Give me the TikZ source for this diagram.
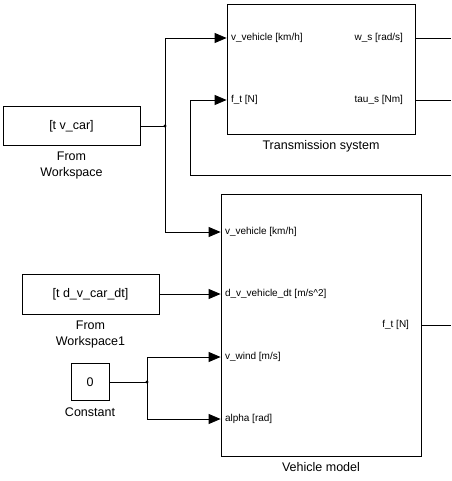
\documentclass[tikz,border=0pt]{standalone}
\usepackage{fontspec}
\setmainfont{Liberation Sans}
\usetikzlibrary{arrows.meta,positioning}

\begin{document}
\begin{tikzpicture}[x=1pt,y=-1pt,>={Triangle[length=12pt,width=10pt]},line width=0.8pt,
                    block/.style={draw,inner sep=0pt,font=\fontsize{12.5}{15}\selectfont},
                    caption/.style={align=center,inner sep=1pt,font=\fontsize{12.5}{16}\selectfont},
                    port/.style={inner sep=0pt,font=\fontsize{10}{12}\selectfont}]
  \useasboundingbox (0,0) rectangle (451,481);

  \node[block,minimum width=188pt,minimum height=130pt] (TS)  at (321,69)   {};
  \node[caption] (TSlbl) [below=5pt of TS]  {Transmission system};
  \node[block,minimum width=200pt,minimum height=262pt] (VM)  at (321,325)  {};
  \node[caption] (VMlbl) [below=5pt of VM]  {Vehicle model};
  \node[block,minimum width=137pt,minimum height=39pt]  (FW)  at (71.5,126) {[t v\_car]};
  \node[caption] (FWlbl) [below=5pt of FW]  {From\\Workspace};
  \node[block,minimum width=137pt,minimum height=40pt]  (FW1) at (90.5,294) {[t d\_v\_car\_dt]};
  \node[caption] (FW1lbl) [below=5pt of FW1] {From\\Workspace1};
  \node[block,minimum width=38pt,minimum height=37pt]   (C)   at (90,382)   {0};
  \node[caption] (Clbl) [below=5pt of C]    {Constant};

  % ports
  \coordinate (TSin1)  at (TS.west |- 0,38);
  \coordinate (TSin2)  at (TS.west |- 0,100);
  \coordinate (TSout1) at (TS.east |- 0,38);
  \coordinate (TSout2) at (TS.east |- 0,100);
  \coordinate (VMin1)  at (VM.west |- 0,232);
  \coordinate (VMin2)  at (VM.west |- 0,294);
  \coordinate (VMin3)  at (VM.west |- 0,357);
  \coordinate (VMin4)  at (VM.west |- 0,419);
  \coordinate (VMout)  at (VM.east |- 0,325);

  \node[port,anchor=west] (TSin1lbl)  at ([xshift=4pt]TSin1)   {v\_vehicle [km/h]};
  \node[port,anchor=west] (TSin2lbl)  at ([xshift=4pt]TSin2)   {f\_t [N]};
  \node[port,anchor=east] (TSout1lbl) at ([xshift=-12pt]TSout1) {w\_s [rad/s]};
  \node[port,anchor=east] (TSout2lbl) at ([xshift=-12pt]TSout2) {tau\_s [Nm]};
  \node[port,anchor=west] (VMin1lbl)  at ([xshift=4pt]VMin1)   {v\_vehicle [km/h]};
  \node[port,anchor=west] (VMin2lbl)  at ([xshift=4pt]VMin2)   {d\_v\_vehicle\_dt [m/s\textasciicircum2]};
  \node[port,anchor=west] (VMin3lbl)  at ([xshift=4pt]VMin3)   {v\_wind [m/s]};
  \node[port,anchor=west] (VMin4lbl)  at ([xshift=4pt]VMin4)   {alpha [rad]};
  \node[port,anchor=east] (VMoutlbl)  at ([xshift=-12pt]VMout) {f\_t [N]};

  \coordinate (J1) at (165,126);
  \coordinate (J2) at (147,382);
  \coordinate (FB) at (190,175);
  \coordinate (E1) at (451,38);
  \coordinate (E2) at (451,100);
  \coordinate (E3) at (451,325);
  \coordinate (E4) at (451,175);

  \draw (FW.east) -- (J1);
  \draw[->] (J1) |- (TSin1);
  \draw[->] (J1) |- (VMin1);
  \draw[->] (FW1.east) -- (VMin2);
  \draw (C.east) -- (J2);
  \draw[->] (J2) |- (VMin3);
  \draw[->] (J2) |- (VMin4);
  \draw (TSout1) -- (E1);
  \draw (TSout2) -- (E2);
  \draw (VMout) -- (E3);
  \draw[->] (E4) -- (FB) |- (TSin2);
  \fill (J1) circle (1.6pt);
  \fill (J2) circle (1.6pt);
\end{tikzpicture}
\end{document}
